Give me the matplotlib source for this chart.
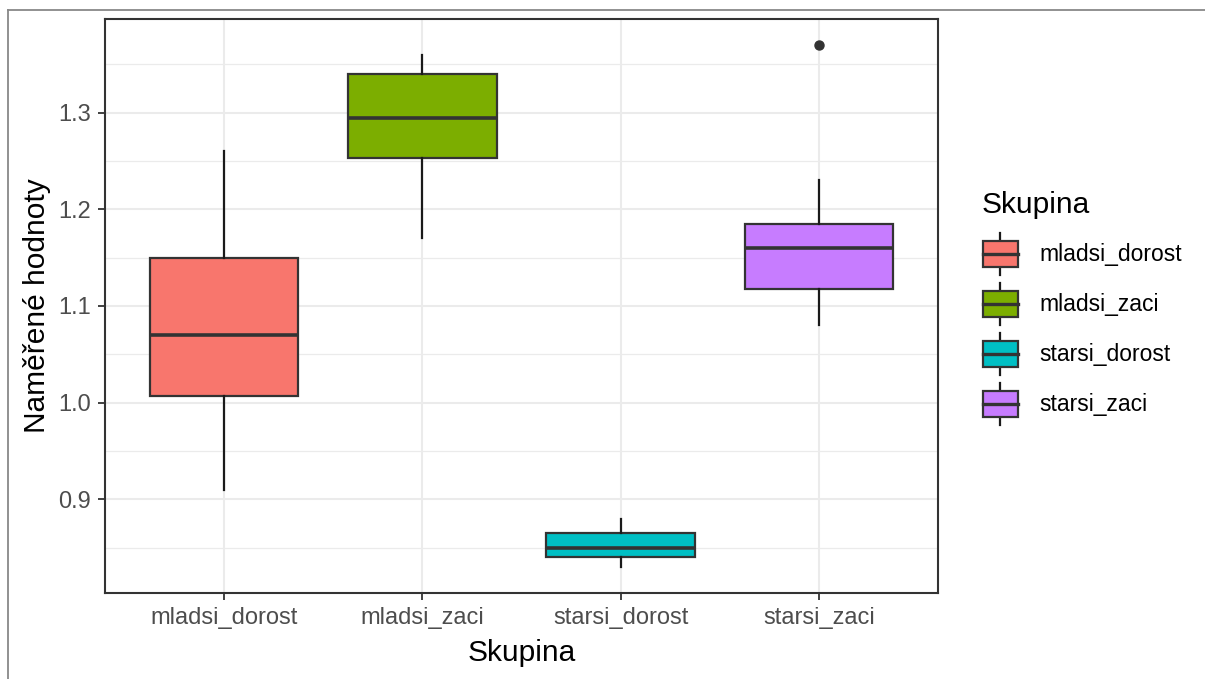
import numpy as np
import matplotlib.pyplot as plt
from matplotlib.legend_handler import HandlerBase
from matplotlib.patches import Rectangle, Patch
from matplotlib.lines import Line2D

plt.rcParams['font.family'] = ['Liberation Sans', 'DejaVu Sans']

# data
groups = ['mladsi_dorost', 'mladsi_zaci', 'starsi_dorost', 'starsi_zaci']
colors = ['#F8766D', '#7CAE00', '#00BFC4', '#C77CFF']
q1 = [1.007, 1.253, 0.840, 1.118]
med = [1.070, 1.295, 0.850, 1.160]
q3 = [1.150, 1.340, 0.865, 1.185]
whislo = [0.91, 1.17, 0.83, 1.08]
whishi = [1.26, 1.36, 0.88, 1.23]
outliers = [[], [], [], [1.37]]

yticks = [0.9, 1.0, 1.1, 1.2, 1.3]
yminor = [0.85, 0.95, 1.05, 1.15, 1.25, 1.35]

dark = '#333333'

fig = plt.figure(figsize=(12.05, 6.79), dpi=100)
ax = fig.add_axes([105 / 1205, 86 / 679, 833 / 1205, 574 / 679])

stats = []
for i, g in enumerate(groups):
    stats.append(dict(label=g, q1=q1[i], med=med[i], q3=q3[i],
                      whislo=whislo[i], whishi=whishi[i], fliers=outliers[i]))

pos = np.arange(1, len(groups) + 1)
bp = ax.bxp(stats, positions=pos, widths=0.75, patch_artist=True, showcaps=False,
            boxprops=dict(edgecolor=dark, linewidth=1.6),
            medianprops=dict(color=dark, linewidth=2.6),
            whiskerprops=dict(color='#1a1a1a', linewidth=1.6),
            flierprops=dict(marker='o', markerfacecolor=dark, markeredgecolor=dark,
                            markersize=6.5))
for patch, c in zip(bp['boxes'], colors):
    patch.set_facecolor(c)
for art in bp['boxes'] + bp['medians'] + bp['whiskers'] + bp['fliers']:
    art.set_zorder(3)

ax.set_xlim(0.4, 4.6)
ax.set_ylim(0.803, 1.397)
ax.set_xticks(pos)
ax.set_xticklabels(groups)
ax.set_yticks(yticks)
ax.set_yticklabels([f'{v:.1f}' for v in yticks])
ax.set_yticks(yminor, minor=True)

ax.grid(True, which='major', color='#EBEBEB', linewidth=1.5, zorder=0)
ax.grid(True, which='minor', axis='y', color='#EBEBEB', linewidth=0.9, zorder=0)
ax.set_axisbelow(True)

ax.tick_params(which='major', length=5, width=1.3, color=dark, labelsize=17,
               labelcolor='#4D4D4D', pad=5)
ax.tick_params(which='minor', length=0)
for s in ax.spines.values():
    s.set_color(dark)
    s.set_linewidth(1.5)

ax.set_xlabel('Skupina', fontsize=21.5, color='black', labelpad=7)
ax.set_ylabel('Naměřené hodnoty', fontsize=21.5, color='black', labelpad=5)


class BoxKey(HandlerBase):
    def create_artists(self, legend, orig, xd, yd, w, h, fontsize, trans):
        x0, y0 = -xd, -yd
        bw = w * 0.95
        bx = x0 + (w - bw) / 2
        bh = h * 0.6
        by = y0 + (h - bh) / 2
        cx = x0 + w / 2
        box = Rectangle((bx, by), bw, bh, facecolor=orig.get_facecolor(),
                        edgecolor=dark, linewidth=1.6, transform=trans)
        mid = Line2D([bx, bx + bw], [y0 + h / 2] * 2, color=dark, linewidth=2.4,
                     transform=trans)
        w1 = Line2D([cx, cx], [y0 + h * 0.02, by], color='#1a1a1a', linewidth=1.6,
                    transform=trans)
        w2 = Line2D([cx, cx], [by + bh, y0 + h * 0.98], color='#1a1a1a', linewidth=1.6,
                    transform=trans)
        return [w1, w2, box, mid]


handles = [Patch(facecolor=c, label=g) for g, c in zip(groups, colors)]
leg = fig.legend(handles=handles, loc='upper left', bbox_to_anchor=(982 / 1205, 1 - 191 / 679),
                 frameon=False, fontsize=16.5, title='Skupina', title_fontsize=21.5,
                 handler_map={Patch: BoxKey()}, handlelength=1.6, handleheight=2.6,
                 labelspacing=0.25, handletextpad=0.9, borderaxespad=0, borderpad=0)
leg._legend_box.align = 'left'
leg._legend_box.sep += 5  # a bit more room under the title
for t in leg.get_texts():
    t.set_color('black')

# outer frame of the screenshot
fig.add_artist(Line2D([8 / 1205, 1], [1 - 10 / 679] * 2, color='#888888', linewidth=1.3,
                      transform=fig.transFigure))
fig.add_artist(Line2D([8 / 1205] * 2, [0, 1 - 10 / 679], color='#888888', linewidth=1.3,
                      transform=fig.transFigure))

fig.savefig('out.png', dpi=100)
